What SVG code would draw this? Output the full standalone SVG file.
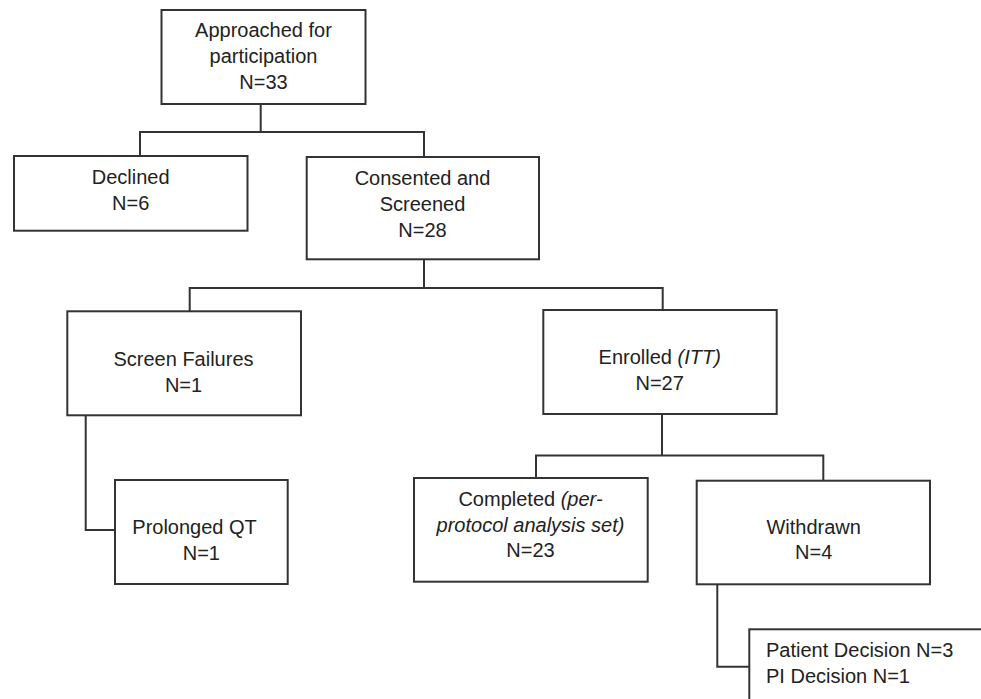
<svg xmlns="http://www.w3.org/2000/svg" width="981" height="699" viewBox="0 0 981 699">
<style>
.box{fill:#fff;stroke:#333;stroke-width:2}
.ln{fill:none;stroke:#333;stroke-width:2}
text{font-family:"Liberation Sans",Arial,sans-serif;font-size:20px;fill:#222}
.c{text-anchor:middle}
.i{font-style:italic}
</style>
<rect width="981" height="699" fill="#fff"/>
<g id="connectors">
<path class="ln" d="M260.7,104 V132 M140,156 V132 H424 V157"/>
<path class="ln" d="M424,259 V288 M189.7,311 V288 H662.7 V310"/>
<path class="ln" d="M85.7,415 V530 H115"/>
<path class="ln" d="M662,414 V455.5 M536,478 V455.5 H823.3 V480.7"/>
<path class="ln" d="M717.3,584.3 V666.7 H749.3"/>
</g>
<g id="approached">
<rect class="box" x="161.5" y="10" width="204" height="94"/>
<text class="c" x="263.5" y="37">Approached for</text>
<text class="c" x="263.5" y="63">participation</text>
<text class="c" x="263.5" y="89">N=33</text>
</g>
<g id="declined">
<rect class="box" x="14" y="156" width="233.5" height="74.7"/>
<text class="c" x="130.7" y="184">Declined</text>
<text class="c" x="130.7" y="210">N=6</text>
</g>
<g id="consented">
<rect class="box" x="306.7" y="157" width="232.3" height="102.3"/>
<text class="c" x="422.5" y="185">Consented and</text>
<text class="c" x="422.5" y="211">Screened</text>
<text class="c" x="422.5" y="237">N=28</text>
</g>
<g id="screenfail">
<rect class="box" x="67.3" y="311.3" width="233.7" height="104"/>
<text class="c" x="183.5" y="365.5">Screen Failures</text>
<text class="c" x="183.5" y="391.5">N=1</text>
</g>
<g id="prolonged">
<rect class="box" x="115" y="480" width="172.7" height="104"/>
<text x="132.3" y="534">Prolonged QT</text>
<text x="182.7" y="560">N=1</text>
</g>
<g id="enrolled">
<rect class="box" x="543.3" y="310" width="233.4" height="104"/>
<text class="c" x="659.7" y="364.3">Enrolled <tspan class="i">(ITT)</tspan></text>
<text class="c" x="659.7" y="390">N=27</text>
</g>
<g id="completed">
<rect class="box" x="414" y="478" width="233.7" height="103.7"/>
<text class="c" x="530.5" y="506">Completed <tspan class="i">(per-</tspan></text>
<text class="c i" x="530.5" y="531.7">protocol analysis set)</text>
<text class="c" x="530.5" y="557.3">N=23</text>
</g>
<g id="withdrawn">
<rect class="box" x="696.7" y="480.7" width="233.3" height="103.6"/>
<text class="c" x="813.7" y="534">Withdrawn</text>
<text class="c" x="813.7" y="559.3">N=4</text>
</g>
<g id="reasons">
<rect class="box" x="749.3" y="629.3" width="260" height="100"/>
<text x="766" y="657.3">Patient Decision N=3</text>
<text x="766" y="682.7">PI Decision N=1</text>
</g>
</svg>
